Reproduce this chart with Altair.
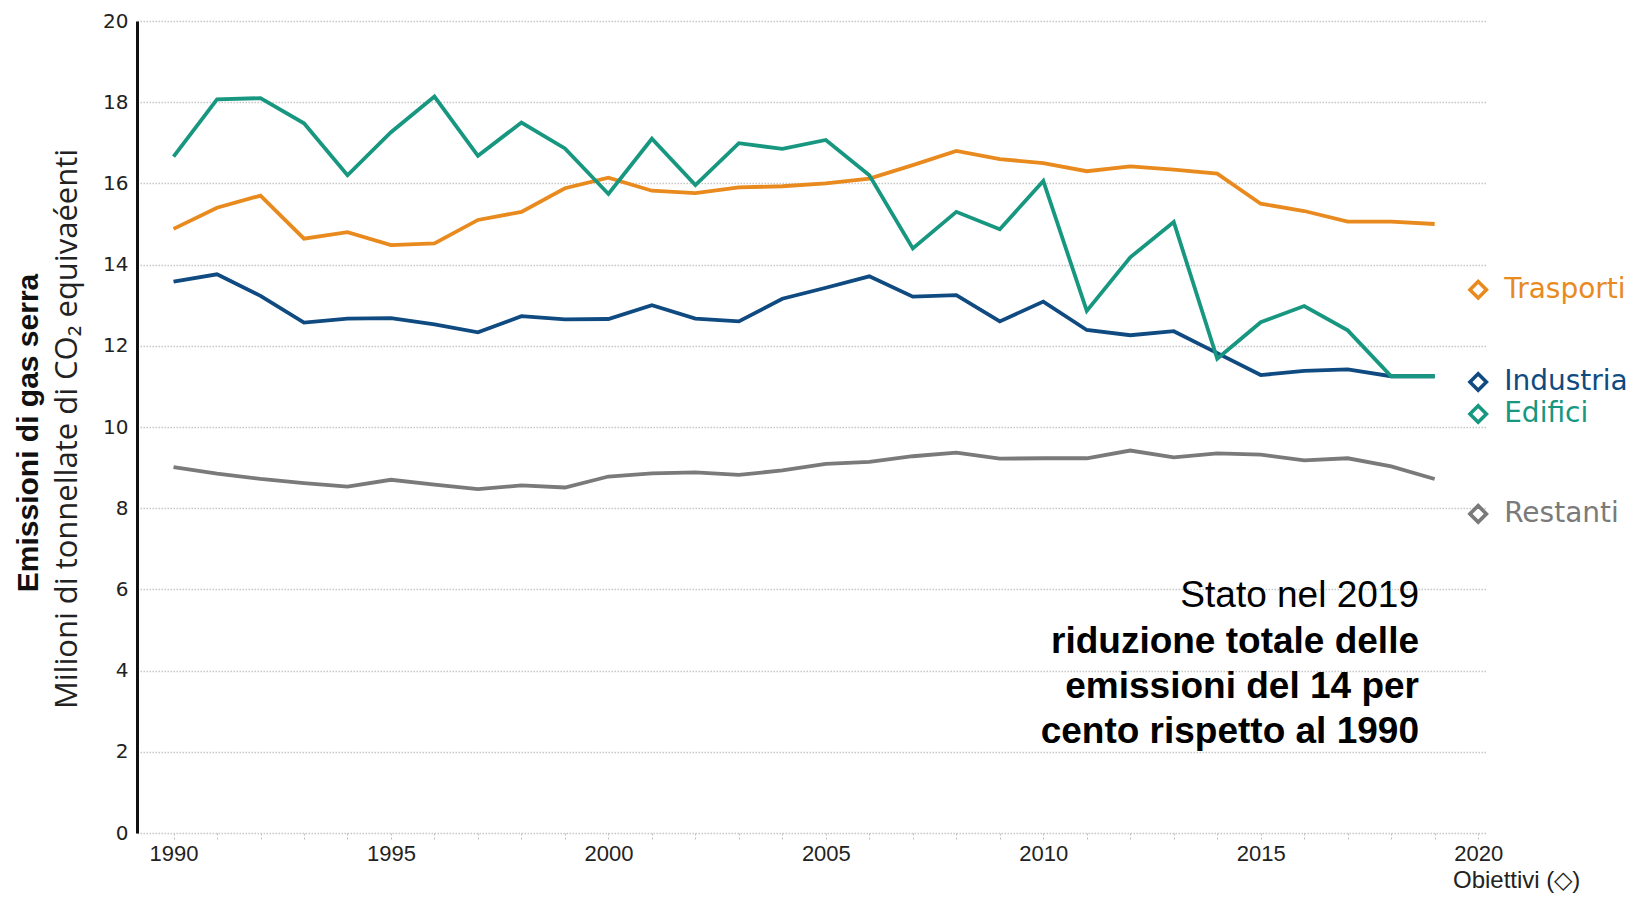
import altair as alt
import pandas as pd

# ---------------- data ----------------
years = list(range(1990, 2020))
trasporti = [14.88, 15.40, 15.70, 14.64, 14.80, 14.48, 14.52, 15.10, 15.30, 15.88,
             16.14, 15.82, 15.76, 15.90, 15.93, 16.00, 16.12, 16.45, 16.80, 16.60,
             16.50, 16.30, 16.42, 16.34, 16.24, 15.50, 15.32, 15.06, 15.06, 15.00]
industria = [13.58, 13.76, 13.23, 12.57, 12.67, 12.68, 12.53, 12.33, 12.73, 12.65,
             12.66, 13.00, 12.67, 12.60, 13.16, 13.43, 13.71, 13.21, 13.25, 12.60,
             13.09, 12.39, 12.26, 12.36, 11.82, 11.28, 11.38, 11.42, 11.25, 11.25]
edifici = [16.66, 18.07, 18.10, 17.48, 16.20, 17.26, 18.14, 16.68, 17.50, 16.86,
           15.74, 17.10, 15.96, 16.99, 16.85, 17.07, 16.20, 14.40, 15.30, 14.87,
           16.06, 12.86, 14.18, 15.05, 11.68, 12.58, 12.98, 12.38, 11.25, 11.25]
restanti = [9.01, 8.85, 8.72, 8.62, 8.53, 8.70, 8.58, 8.47, 8.56, 8.51,
            8.78, 8.86, 8.88, 8.82, 8.93, 9.09, 9.14, 9.28, 9.37, 9.22,
            9.23, 9.23, 9.42, 9.25, 9.35, 9.32, 9.18, 9.23, 9.03, 8.72]

sectors = ["Restanti", "Industria", "Trasporti", "Edifici"]
colors = ["#7A7A7A", "#0F4A80", "#E88A1E", "#17977F"]

target_sectors = ["Trasporti", "Industria", "Edifici", "Restanti"]
target_values = [13.38, 11.11, 10.32, 7.86]
target_year = 2020

y_ticks = list(range(0, 21, 2))
x_ticks = list(range(1990, 2021))

annotation_lines = ["Stato nel 2019", "riduzione totale delle",
                    "emissioni del 14 per", "cento rispetto al 1990"]
title_bold = "Emissioni di gas serra"
title_sub = "Milioni di tonnellate di CO\u2082 equiva\u00e9enti"
goal_label = "Obiettivi (\u25c7)"

# ---------------- tables ----------------
series = {"Trasporti": trasporti, "Industria": industria,
          "Edifici": edifici, "Restanti": restanti}
rows = []
for name, vals in series.items():
    for yr, v in zip(years, vals):
        rows.append({"sector": name, "year": yr, "value": v})
df = pd.DataFrame(rows)
targets = pd.DataFrame({"sector": target_sectors,
                        "year": [target_year] * len(target_sectors),
                        "value": target_values})
one = pd.DataFrame({"k": [0]})

# ---------------- scales / axes ----------------
W, H = 1349, 812
x_scale = alt.Scale(domain=[1989.16, 2020.18], nice=False, zero=False)
y_scale = alt.Scale(domain=[0, 20], nice=False)
color_scale = alt.Scale(domain=sectors, range=colors)

x_axis = alt.Axis(values=x_ticks, format="d",
                  labelExpr="datum.value % 5 === 0 ? datum.label : ''",
                  title=None, grid=False, domain=False, ticks=True, tickSize=7,
                  tickColor="#c0c0c0", tickDash=[2, 2], tickWidth=1,
                  labelFont="Liberation Sans", labelFontSize=22, labelColor="#222222",
                  labelPadding=3, labelFlush=False, labelOverlap=False)
y_axis = alt.Axis(values=y_ticks, title=None, grid=True, gridColor="#c6c6c6",
                  gridDash=[1.5, 1.5], gridWidth=1.3, domain=True,
                  domainColor="#111111", domainWidth=3, ticks=False,
                  labelFont="DejaVu Sans", labelFontSize=20, labelColor="#222222",
                  labelPadding=9)

X = alt.X("year:Q", scale=x_scale, axis=x_axis)
Y = alt.Y("value:Q", scale=y_scale, axis=y_axis)
C = alt.Color("sector:N", scale=color_scale, legend=None)

layers = []
for s in sectors:
    layers.append(
        alt.Chart(df[df["sector"] == s]).mark_line(strokeWidth=3.8)
        .encode(x=X, y=Y, color=C)
    )

layers.append(
    alt.Chart(targets).mark_point(shape="diamond", filled=False, size=270,
                                  strokeWidth=3.6, opacity=1)
    .encode(x=X, y=Y, color=C)
)
layers.append(
    alt.Chart(targets).mark_text(align="left", baseline="middle", dx=26,
                                 font="DejaVu Sans", fontSize=28)
    .encode(x=X, y=Y, color=C, text="sector:N")
)

# annotation block
ann_y = [586, 632, 677, 722]
for i, line in enumerate(annotation_lines):
    layers.append(
        alt.Chart(one).mark_text(text=line, align="right", baseline="alphabetic",
                                 font="Liberation Sans", fontSize=37,
                                 fontWeight="normal" if i == 0 else "bold",
                                 color="#000000")
        .encode(x=alt.value(1282), y=alt.value(ann_y[i]))
    )

# rotated axis titles
layers.append(
    alt.Chart(one).mark_text(text=title_bold, angle=270, align="center",
                             baseline="middle", font="Liberation Sans",
                             fontSize=30, fontWeight="bold", color="#111111")
    .encode(x=alt.value(-108), y=alt.value(412))
)
layers.append(
    alt.Chart(one).mark_text(text=title_sub, angle=270, align="center",
                             baseline="middle", font="Open Sans",
                             fontSize=31, color="#222222")
    .encode(x=alt.value(-69), y=alt.value(408))
)

# goal label under the 2020 tick
layers.append(
    alt.Chart(one).mark_text(text=goal_label, align="left", baseline="middle",
                             font="Liberation Sans", fontSize=24, color="#222222")
    .encode(x=alt.value(1316), y=alt.value(860))
)

chart = alt.layer(*layers).properties(
    width=W, height=H,
    autosize=alt.AutoSizeParams(type="none"),
    padding={"left": 129, "top": 13, "right": 143, "bottom": 63},
).configure_view(stroke=None)

chart.save("out.html", embed_options={"renderer": "svg", "actions": False})
